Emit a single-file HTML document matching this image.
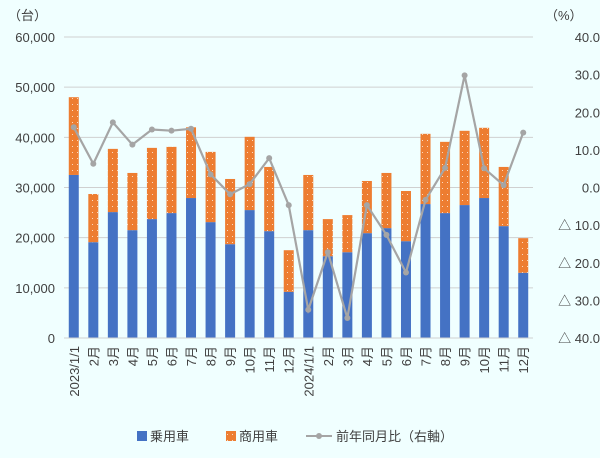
<!DOCTYPE html>
<html><head><meta charset="utf-8"><style>
body{margin:0;background:#F0FFFF;}
svg text{font-family:"Liberation Sans","Noto Sans CJK JP",sans-serif;fill:#404040;font-size:13px;}
</style></head><body>
<svg id="c" width="600" height="453" viewBox="0 0 600 453">
<defs><pattern id="dots" width="5" height="6" patternUnits="userSpaceOnUse"><rect width="5" height="6" fill="#ED7D31"/><rect x="2" y="2" width="1" height="1" fill="#FBD9BF"/></pattern></defs>
<rect width="600" height="453" fill="#F0FFFF"/>
<g id="grid"></g><g id="bars"></g><g id="line"></g><g id="axes"></g>
<text x="8" y="20">（台）</text>
<text x="545" y="20">（%）</text>
<g>
<rect x="137" y="431" width="10" height="10" fill="#4472C4"/>
<text x="150" y="441">乗用車</text>
<rect x="226" y="431" width="10" height="10" fill="url(#dots)"/>
<text x="239" y="441">商用車</text>
<line x1="306" y1="436" x2="332" y2="436" stroke="#A5A5A5" stroke-width="2"/>
<circle cx="319" cy="436" r="3" fill="#A5A5A5"/>
<text x="336" y="441">前年同月比（右軸）</text>
</g>
</svg>
<script>
const categories=["2023/1/1","2月","3月","4月","5月","6月","7月","8月","9月","10月","11月","12月","2024/1/1","2月","3月","4月","5月","6月","7月","8月","9月","10月","11月","12月"];
const passenger=[32500,19100,25100,21500,23700,24900,27900,23100,18700,25500,21300,9200,21500,16300,17100,20900,21900,19300,26700,24900,26500,27900,22300,13000];
const totals=[48000,28700,37700,32900,37900,38100,42000,37100,31700,40100,34100,17500,32500,23700,24500,31300,32900,29300,40700,39100,41300,41900,34100,19900];
const yoy=[16.0,6.3,17.3,11.4,15.4,15.1,15.6,3.5,-1.8,0.9,7.8,-4.7,-32.5,-17.2,-34.7,-4.7,-12.6,-22.6,-3.3,5.2,29.8,5.1,0.6,14.6];
const leftTicks=[0,10000,20000,30000,40000,50000,60000];
const rightTicks=[-40,-30,-20,-10,0,10,20,30,40];
const NS="http://www.w3.org/2000/svg";
const X0=64,X1=533,Y0=338,Y1=37;
const step=(X1-X0)/categories.length;
const xc=i=>X0+step*(i+0.5);
const yL=v=>Y0-(v/60000)*(Y0-Y1);
const yR=v=>Y0-((v+40)/80)*(Y0-Y1);
function mk(tag,attrs,parent){const e=document.createElementNS(NS,tag);for(const k in attrs)e.setAttribute(k,attrs[k]);document.getElementById(parent).appendChild(e);return e;}
leftTicks.forEach(t=>{
  const l=mk('line',{x1:X0,x2:X1,y1:yL(t),y2:yL(t),stroke:'#D0D0D0','stroke-width':1},'grid');
  
  
  const tx=mk('text',{x:55,y:yL(t)+5,'text-anchor':'end'},'axes');
  tx.textContent=t.toLocaleString('en-US');
  
  
});
rightTicks.forEach(t=>{
  const tx=mk('text',{x:600,y:yR(t)+5,'text-anchor':'end'},'axes');
  tx.textContent=(t<0?'△ ':'')+Math.abs(t).toFixed(1);
  
  
});
categories.forEach((c,i)=>{
  const bw=10,x=xc(i)-bw/2;
  const b=mk('rect',{x:x,y:yL(passenger[i]),width:bw,height:Y0-yL(passenger[i]),fill:'#4472C4'},'bars');
  
  
  const o=mk('rect',{x:x,y:yL(totals[i]),width:bw,height:yL(passenger[i])-yL(totals[i]),fill:'url(#dots)'},'bars');
  
  
  const tx=mk('text',{x:0,y:0,'text-anchor':'end',transform:`translate(${xc(i)+5},346) rotate(-90)`},'axes');
  tx.textContent=c;
  
  
});
const pl=mk('polyline',{points:yoy.map((v,i)=>xc(i)+','+yR(v)).join(' '),fill:'none',stroke:'#A5A5A5','stroke-width':2.2},'line');


yoy.forEach((v,i)=>{
  const p=mk('circle',{cx:xc(i),cy:yR(v),r:3,fill:'#A5A5A5'},'line');
  
  
});
const ax=mk('line',{x1:X0,x2:X1,y1:Y0,y2:Y0,stroke:'#D0D0D0'},'axes');


</script>
</body></html>
